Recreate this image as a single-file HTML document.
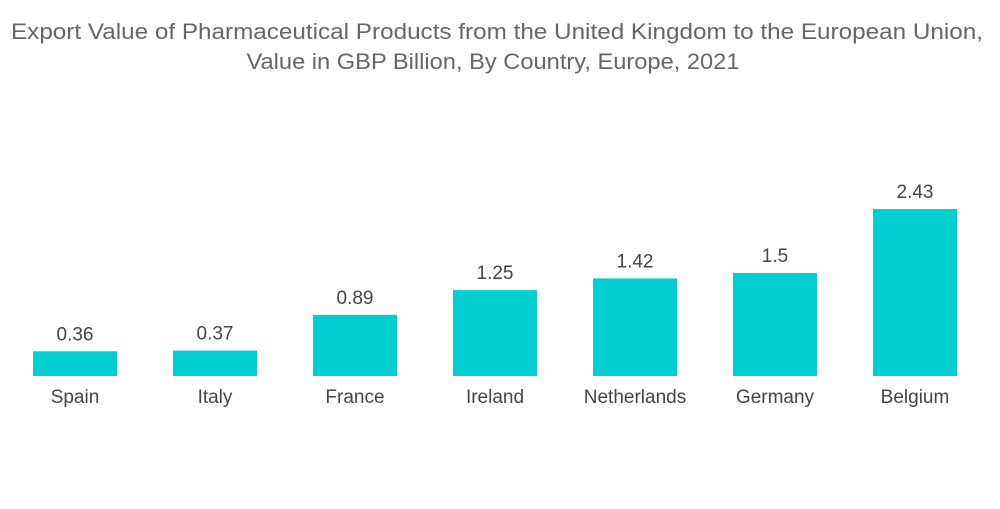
<!DOCTYPE html>
<html><head><meta charset="utf-8"><style>
html,body{margin:0;padding:0;background:#fff;}
body{width:1000px;height:504px;overflow:hidden;font-family:"Liberation Sans",sans-serif;}
</style></head><body>
<svg width="1000" height="504" viewBox="0 0 1000 504">
<g fill="#666" font-size="22" text-anchor="middle">
<text x="497" y="39" textLength="972" lengthAdjust="spacingAndGlyphs">Export Value of Pharmaceutical Products from the United Kingdom to the European Union,</text>
<text x="493" y="69" textLength="493" lengthAdjust="spacingAndGlyphs">Value in GBP Billion, By Country, Europe, 2021</text>
</g>
<g id="bars"></g>
</svg>
<script>
const categories=["Spain","Italy","France","Ireland","Netherlands","Germany","Belgium"];
const values=[0.36,0.37,0.89,1.25,1.42,1.5,2.43];
const valueLabels=["0.36","0.37","0.89","1.25","1.42","1.5","2.43"];
const baseY=376, pxPerUnit=68.7, x0=75, step=140, bw=84;
function yScale(v){return baseY-v*pxPerUnit;}
function xScale(i){return x0+i*step;}
const g=document.getElementById('bars');
const ns="http://www.w3.org/2000/svg";
categories.forEach((c,i)=>{
  const cx=xScale(i), top=yScale(values[i]);
  const r=document.createElementNS(ns,'rect');
  r.setAttribute('x',cx-bw/2);r.setAttribute('y',top);
  r.setAttribute('width',bw);r.setAttribute('height',baseY-top);
  r.setAttribute('fill','#00CED1');
  
  
  g.appendChild(r);
  const t=document.createElementNS(ns,'text');
  t.setAttribute('x',cx);t.setAttribute('y',top-11);
  t.setAttribute('text-anchor','middle');t.setAttribute('font-size','19');t.setAttribute('fill','#444');
  t.textContent=valueLabels[i];
  
  
  g.appendChild(t);
  const l=document.createElementNS(ns,'text');
  l.setAttribute('x',cx);l.setAttribute('y',403);
  l.setAttribute('text-anchor','middle');l.setAttribute('font-size','19');l.setAttribute('fill','#444');
  l.textContent=c;
  
  
  g.appendChild(l);
});
</script>
</body></html>
